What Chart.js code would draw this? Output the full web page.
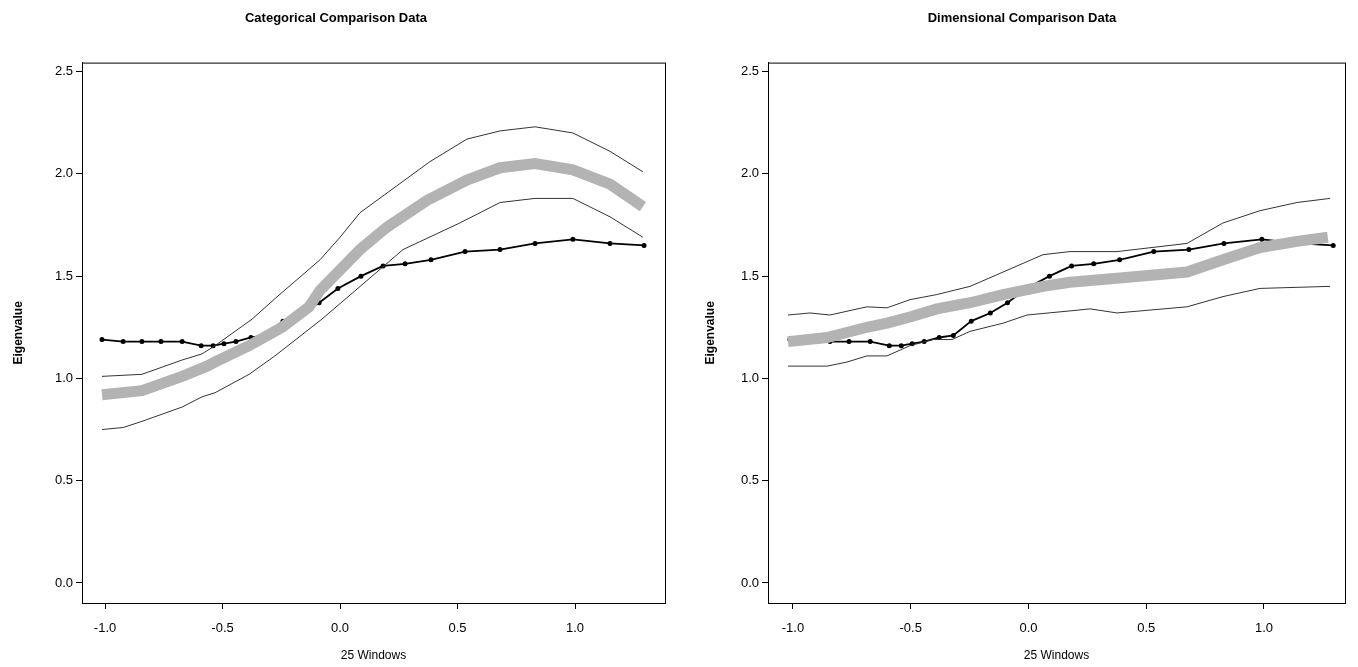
<!DOCTYPE html>
<html>
<head>
<meta charset="utf-8">
<script src="https://cdn.jsdelivr.net/npm/chart.js@4"></script>
<style>
  body { margin: 0; background: #fff; }
  .wrap { position: absolute; top: 0; width: 679px; height: 667px; }
</style>
</head>
<body>
<div class="wrap" style="left:0"><canvas id="chartCat"></canvas></div>
<div class="wrap" style="left:679px"><canvas id="chartDim"></canvas></div>
<script>
// Observed eigenvalue (same series in both panels)
const obsX = [-1.013, -0.923, -0.843, -0.762, -0.672, -0.591, -0.540, -0.494, -0.443, -0.379, -0.319, -0.243, -0.162, -0.089, -0.009, 0.089, 0.183, 0.277, 0.387, 0.532, 0.681, 0.830, 0.991, 1.149, 1.294];
const obsY = [1.19, 1.18, 1.18, 1.18, 1.18, 1.16, 1.16, 1.17, 1.18, 1.20, 1.21, 1.28, 1.32, 1.37, 1.44, 1.50, 1.55, 1.56, 1.58, 1.62, 1.63, 1.66, 1.68, 1.66, 1.65];

// Categorical comparison data
const catUpperX = [-1.013, -0.843, -0.672, -0.587, -0.532, -0.374, -0.277, -0.085, 0.0, 0.085, 0.383, 0.540, 0.681, 0.830, 0.991, 1.149, 1.289];
const catUpperY = [1.01, 1.02, 1.09, 1.12, 1.16, 1.29, 1.39, 1.58, 1.69, 1.81, 2.06, 2.17, 2.21, 2.23, 2.20, 2.11, 2.01];
const catLowerX = [-1.013, -0.923, -0.843, -0.672, -0.587, -0.532, -0.387, -0.277, -0.077, 0.157, 0.268, 0.510, 0.681, 0.830, 0.991, 1.149, 1.289];
const catLowerY = [0.75, 0.76, 0.79, 0.86, 0.91, 0.93, 1.02, 1.11, 1.29, 1.52, 1.63, 1.76, 1.86, 1.88, 1.88, 1.79, 1.69];
const catMidX = [-1.013, -0.843, -0.672, -0.566, -0.532, -0.387, -0.247, -0.132, -0.085, 0.085, 0.200, 0.370, 0.540, 0.681, 0.830, 0.991, 1.149, 1.289];
const catMidY = [0.92, 0.94, 1.01, 1.06, 1.08, 1.16, 1.25, 1.35, 1.43, 1.63, 1.74, 1.87, 1.97, 2.03, 2.05, 2.02, 1.95, 1.84];

// Dimensional comparison data
const dimUpperX = [-1.021, -0.928, -0.843, -0.686, -0.601, -0.503, -0.389, -0.248, -0.108, 0.062, 0.176, 0.376, 0.673, 0.826, 0.983, 1.140, 1.280];
const dimUpperY = [1.31, 1.32, 1.31, 1.35, 1.345, 1.385, 1.41, 1.45, 1.52, 1.605, 1.62, 1.62, 1.66, 1.76, 1.82, 1.86, 1.88];
const dimLowerX = [-1.021, -0.855, -0.771, -0.686, -0.601, -0.503, -0.406, -0.325, -0.248, -0.108, -0.006, 0.176, 0.261, 0.376, 0.673, 0.826, 0.983, 1.280];
const dimLowerY = [1.06, 1.06, 1.08, 1.11, 1.11, 1.16, 1.19, 1.19, 1.23, 1.27, 1.31, 1.33, 1.34, 1.32, 1.35, 1.40, 1.44, 1.45];
const dimMidX = [-1.021, -0.855, -0.686, -0.601, -0.503, -0.389, -0.248, -0.108, 0.062, 0.176, 0.376, 0.673, 0.826, 0.983, 1.140, 1.271];
const dimMidY = [1.18, 1.20, 1.25, 1.27, 1.30, 1.34, 1.37, 1.41, 1.45, 1.47, 1.49, 1.52, 1.58, 1.64, 1.67, 1.69];

const yTicks = [0.0, 0.5, 1.0, 1.5, 2.0, 2.5];
const xTicks = [-1.0, -0.5, 0.0, 0.5, 1.0];

function pts(xs, ys) {
    return xs.map((x, i) => ({ x: x, y: ys[i] }));
}

// Full box around the plot area
const boxPlugin = {
    id: 'plotBox',
    afterDraw: (chart) => {
        const { ctx, chartArea: a } = chart;
        ctx.save();
        ctx.strokeStyle = '#000';
        ctx.lineWidth = 1;
        ctx.strokeRect(a.left + 0.5, a.top + 0.5, a.right - a.left, a.bottom - a.top);
        ctx.restore();
    }
};

function buildChart(id, title, mid, upper, lower, xMin, xMax, leftPad, yAxisWidth, rightPad) {
    const font = { family: 'Liberation Sans, Arial, sans-serif', size: 13 };
    return new Chart(document.getElementById(id), {
        type: 'line',
        data: {
            datasets: [
                { data: mid, borderColor: '#b3b3b3', borderWidth: 11, pointRadius: 0, tension: 0, borderCapStyle: 'butt' },
                { data: upper, borderColor: '#333', borderWidth: 1, pointRadius: 0, tension: 0 },
                { data: lower, borderColor: '#333', borderWidth: 1, pointRadius: 0, tension: 0 },
                { data: pts(obsX, obsY), borderColor: '#000', backgroundColor: '#000', borderWidth: 1.8, pointRadius: 1.6, tension: 0 }
            ]
        },
        options: {
            responsive: false,
            animation: false,
            layout: { padding: { right: rightPad, top: 0, bottom: 0, left: leftPad } },
            plugins: {
                legend: { display: false },
                tooltip: { enabled: false },
                title: {
                    display: true, text: title, color: '#000',
                    font: { family: font.family, size: 13, weight: 'bold' },
                    padding: { top: 11, bottom: 36 }
                }
            },
            scales: {
                x: {
                    type: 'linear', min: xMin, max: xMax,
                    afterBuildTicks: (s) => { s.ticks = xTicks.map(v => ({ value: v })); },
                    afterFit: (s) => { s.height = 64; },
                    ticks: { color: '#000', font: font, padding: 12, callback: v => v.toFixed(1), maxRotation: 0 },
                    grid: { drawOnChartArea: false, tickLength: 6, color: '#000' },
                    border: { color: '#000' },
                    title: { display: true, text: '25 Windows', color: '#000', font: { family: font.family, size: 12 }, padding: { top: 4 } }
                },
                y: {
                    type: 'linear', min: -0.098, max: 2.544,
                    afterBuildTicks: (s) => { s.ticks = yTicks.map(v => ({ value: v })); },
                    afterFit: (s) => { s.width = yAxisWidth; },
                    ticks: { color: '#000', font: font, padding: 3, callback: v => v.toFixed(1) },
                    grid: { drawOnChartArea: false, tickLength: 6, color: '#000' },
                    border: { color: '#000' },
                    title: { display: true, text: 'Eigenvalue', color: '#000', font: { family: font.family, size: 12, weight: 'bold' } }
                }
            }
        },
        plugins: [boxPlugin]
    });
}

for (const c of document.querySelectorAll('canvas')) { c.width = 679; c.height = 667; }

buildChart('chartCat', 'Categorical Comparison Data',
    pts(catMidX, catMidY), pts(catUpperX, catUpperY), pts(catLowerX, catLowerY),
    -1.098, 1.383, 7, 75, 14);
buildChart('chartDim', 'Dimensional Comparison Data',
    pts(dimMidX, dimMidY), pts(dimUpperX, dimUpperY), pts(dimLowerX, dimLowerY),
    -1.106, 1.344, 20, 69, 13);
</script>
</body>
</html>
